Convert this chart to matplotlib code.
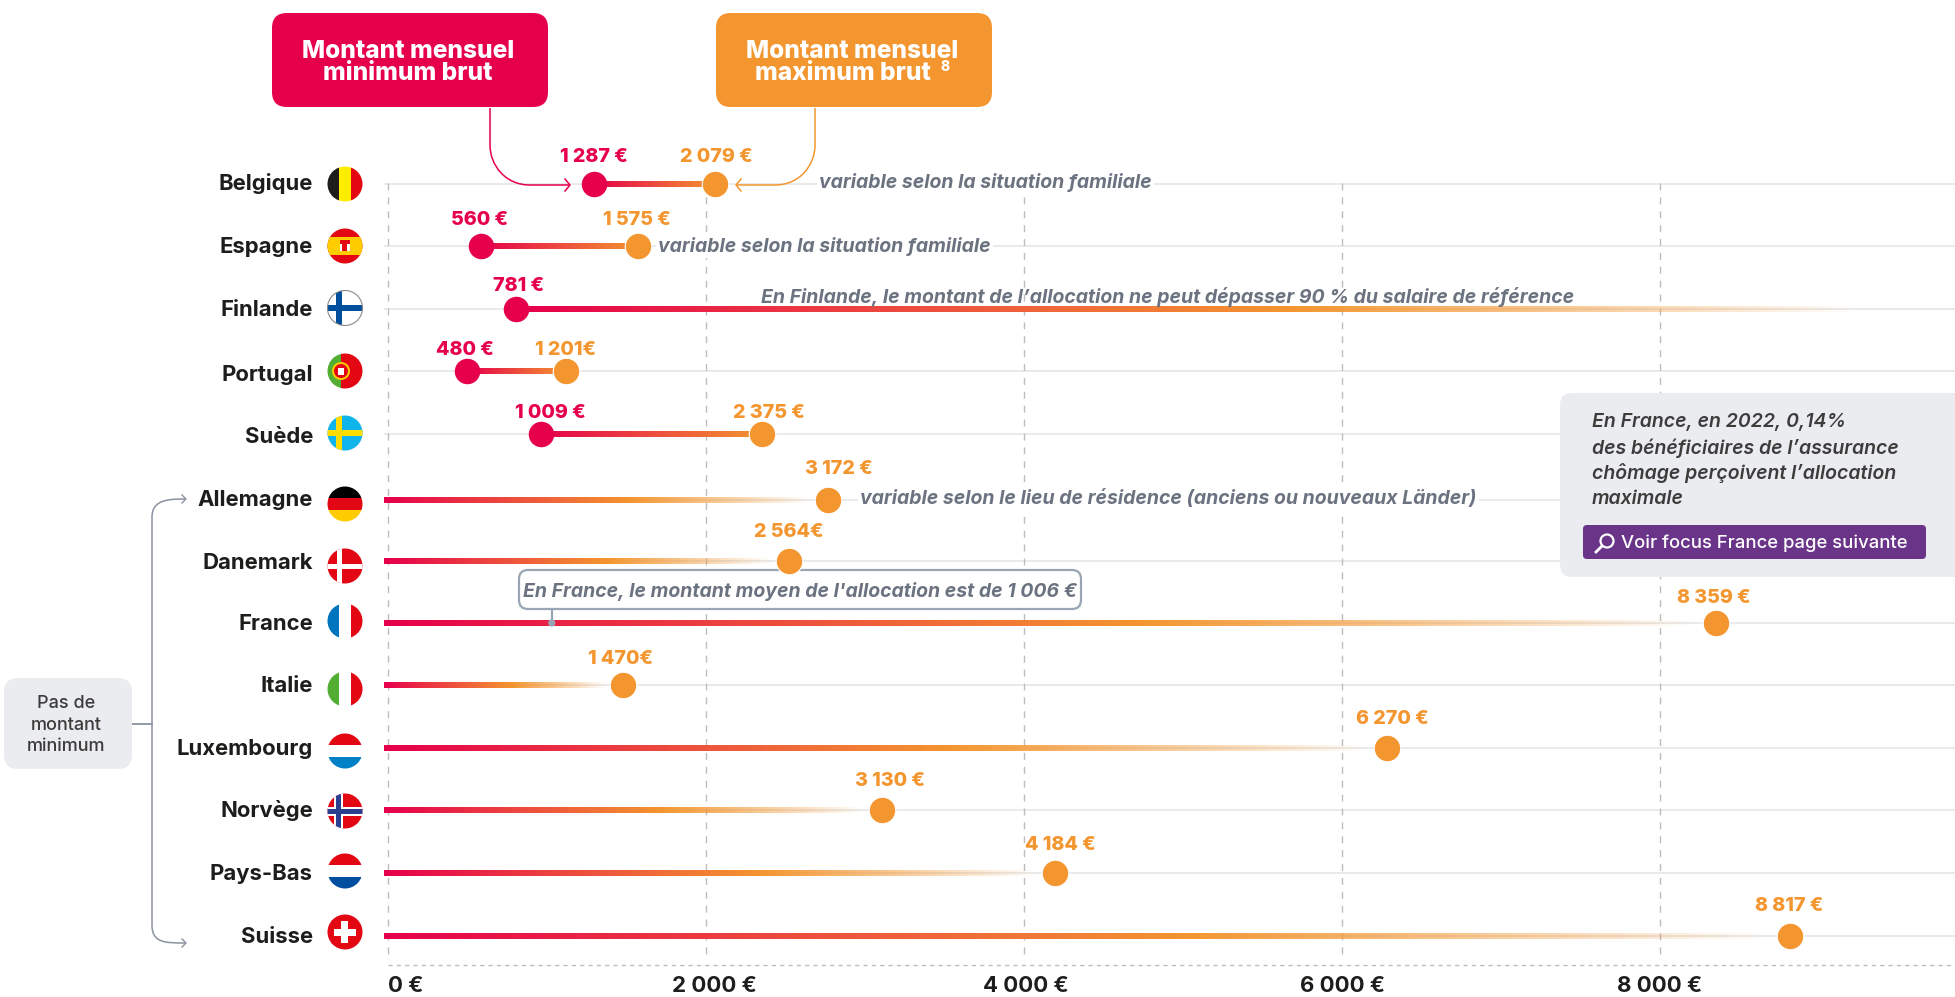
import numpy as np
import matplotlib
matplotlib.use("Agg")
import matplotlib.pyplot as plt
from matplotlib.colors import to_rgb
from matplotlib.patches import Circle, FancyBboxPatch, PathPatch, Rectangle
from matplotlib.path import Path

plt.rcParams["font.family"] = ["Inter", "DejaVu Sans"]

# data
countries = ["Belgique", "Espagne", "Finlande", "Portugal", "Suède", "Allemagne", "Danemark",
             "France", "Italie", "Luxembourg", "Norvège", "Pays-Bas", "Suisse"]
# dot positions as drawn in the picture (in euros on the axis), None = no dot
min_pos = [1296, 588, 805, 500, 962, None, None, None, None, None, None, None, None]
max_pos = [2057, 1572, None, 1119, 2352, 2769, 2525, 8352, 1480, 6280, 3105, 4195, 8820]
min_labels = ["1 287 €", "560 €", "781 €", "480 €", "1 009 €"]
max_labels = ["2 079 €", "1 575 €", None, "1 201€", "2 375 €", "3 172 €", "2 564€", "8 359 €",
              "1 470€", "6 270 €", "3 130 €", "4 184 €", "8 817 €"]
tick_values = [0, 2000, 4000, 6000, 8000]
tick_labels = ["0 €", "2 000 €", "4 000 €", "6 000 €", "8 000 €"]
france_mean_pos = 1030
finland_end = 9245

# layout, in pixels of the 1955x997 picture
row_y = [184, 246, 309, 371, 434, 500, 561, 623, 685, 748, 810, 873, 936]
name_y = [190, 253, 316, 381, 443, 506, 569, 630, 692, 755, 817, 880, 943]
flag_y = [184, 246, 308, 371, 433, 504, 566, 621, 689, 751, 811, 871, 932]
min_label_xy = [(594, 157), (480, 220), (519, 286), (465, 350), (550, 413)]
max_label_xy = [(716, 157), (637, 220), None, (566, 350), (769, 413), (839, 469), (789, 532),
                (1714, 598), (621, 659), (1392, 719), (890, 781), (1060, 845), (1789, 906)]
tick_label_x = [406, 714, 1026, 1343, 1660]

RED = "#E6004C"
ORANGE = "#F49630"
GREY_TXT = "#6B7280"
DARK = "#1D1D1B"
PANEL = "#EBECF0"
PX_PER_EUR = 0.159
X0 = 388


def gradient(fade):
    t = np.linspace(0, 1, 300)
    a, b = np.array(to_rgb(RED)), np.array(to_rgb(ORANGE))
    img = np.ones((1, 300, 4))
    if fade:
        k = np.clip(t / 0.58, 0, 1)
        img[0, :, 3] = np.clip((1 - t) / 0.42, 0, 1)
    else:
        k = t
    img[0, :, :3] = a + (b - a) * k[:, None]
    return img


fig = plt.figure(figsize=(19.55, 9.97), dpi=100)
ax = fig.add_axes([0, 0, 1, 1])
ax.axis("off")

for y in row_y:
    ax.plot([-20, 1955 / PX_PER_EUR], [y, y], color="#E8E8E8", lw=1.3, zorder=1)
for v in tick_values:
    ax.plot([v, v], [183, 958], color="#BDBDBD", lw=1, dashes=(5, 5), zorder=1.5)
ax.plot([0, 1955 / PX_PER_EUR], [965, 965], color="#BDBDBD", lw=1, dashes=(3, 3), zorder=1.5)

for i in range(len(countries)):
    y = row_y[i]
    lo, hi = min_pos[i], max_pos[i]
    if lo is not None and hi is not None:
        ext = (lo, hi, y + 2.8, y - 2.8)
        ax.imshow(gradient(False), extent=ext, aspect="auto", zorder=2)
    elif lo is not None:
        ext = (lo, finland_end, y + 2.8, y - 2.8)
        ax.imshow(gradient(True), extent=ext, aspect="auto", zorder=2)
    else:
        ext = (-25, hi - 110, y + 2.8, y - 2.8)
        ax.imshow(gradient(True), extent=ext, aspect="auto", zorder=2)
    if lo is not None:
        ax.scatter([lo], [y], s=337, color=RED, zorder=3, linewidths=0)
    if hi is not None:
        ax.scatter([hi], [y], s=365, color=ORANGE, zorder=3, edgecolors="white", linewidths=0.8)

ax.set_xlim(-X0 / PX_PER_EUR, (1955 - X0) / PX_PER_EUR)
ax.set_ylim(997, 0)

# overlay in pixel coordinates for boxes, flags and notes
deco = fig.add_axes([0, 0, 1, 1], facecolor="none")
deco.axis("off")
deco.set_xlim(0, 1955)
deco.set_ylim(997, 0)


def box(x0, y0, x1, y1, r, fc, ec="none", lw=0, z=5, target=None):
    p = FancyBboxPatch((x0 + r, y0 + r), x1 - x0 - 2 * r, y1 - y0 - 2 * r,
                       boxstyle=f"round,pad={r},rounding_size={r}", fc=fc, ec=ec, lw=lw, zorder=z,
                       transform=deco.transData)
    (target or deco).add_patch(p)


def curve(points, color):
    codes = [Path.MOVETO, Path.LINETO, Path.CURVE4, Path.CURVE4, Path.CURVE4, Path.LINETO]
    deco.add_patch(PathPatch(Path(points, codes), fc="none", ec=color, lw=1.1, zorder=4))


# headers
box(272, 13, 548, 107, 15, RED)
box(716, 13, 992, 107, 15, ORANGE)
head = dict(color="white", fontsize=17.6, fontweight=800, ha="center", va="center", zorder=6)
deco.text(408, 51, "Montant mensuel", **head)
deco.text(408, 73, "minimum brut", **head)
deco.text(852, 51, "Montant mensuel", **head)
deco.text(843, 73, "maximum brut", **head)
deco.text(945, 67, "8", color="white", fontsize=10, fontweight=800, ha="center", va="center", zorder=6)

curve([(490, 108), (490, 145), (490, 165), (505, 185), (530, 185), (570, 185)], RED)
deco.plot([565, 570, 565], [179, 185, 191], color=RED, lw=1.1, zorder=4)
curve([(815, 108), (815, 145), (815, 165), (800, 185), (775, 185), (736, 185)], ORANGE)
deco.plot([741, 736, 741], [179, 185, 191], color=ORANGE, lw=1.1, zorder=4)

# country names and flags
for name, y in zip(countries, name_y):
    deco.text(313, y, name, color=DARK, fontsize=15.9, fontweight="bold", ha="right", va="baseline")


def flag(y, parts):
    clip = Circle((345, y), 17.5, transform=deco.transData)
    for (x0, y0, w, h, c) in parts:
        r = Rectangle((345 + x0, y + y0), w, h, fc=c, ec="none", zorder=4)
        deco.add_patch(r)
        r.set_clip_path(clip)


def vert(a, b, c):
    return [(-18, -18, 12, 36, a), (-6, -18, 12, 36, b), (6, -18, 12, 36, c)]


def horiz(a, b, c):
    return [(-18, -18, 36, 12, a), (-18, -6, 36, 12, b), (-18, 6, 36, 12, c)]


def cross(bg, c, cx=-6, t=6):
    return [(-18, -18, 36, 36, bg), (cx - t / 2, -18, t, 36, c), (-18, -t / 2, 36, t, c)]


flag(flag_y[0], vert("#1D1D1B", "#FFED00", "#E30613"))
flag(flag_y[1], [(-18, -18, 36, 36, "#E30613"), (-18, -9, 36, 18, "#FFCC00"), (-5, -6, 10, 11, "#E30613"),
                 (-5, -2, 2.5, 7, "white"), (2.5, -2, 2.5, 7, "white")])
flag(flag_y[2], cross("white", "#004F9F"))
deco.add_patch(Circle((345, flag_y[2]), 17.5, fc="none", ec="#8A8A8A", lw=0.8, zorder=4.5))
flag(flag_y[3], [(-18, -18, 14, 36, "#52AE32"), (-4, -18, 22, 36, "#E30613")])
deco.add_patch(Circle((341, flag_y[3]), 8, fc="#E30613", ec="#FFCC00", lw=1.4, zorder=4.5))
deco.add_patch(Rectangle((338, flag_y[3] - 3), 6, 7, fc="white", ec="none", zorder=4.6))
flag(flag_y[4], cross("#0FB5EA", "#FFDD00"))
flag(flag_y[5], horiz("black", "#E30613", "#FFCC00"))
flag(flag_y[6], cross("#E30613", "white", cx=-5, t=5))
flag(flag_y[7], vert("#0075BF", "white", "#E30613"))
flag(flag_y[8], vert("#52AE32", "white", "#E30613"))
flag(flag_y[9], horiz("#E30613", "white", "#0080C5"))
flag(flag_y[10], cross("#E30613", "white", cx=-6, t=9) + [(-8.5, -18, 5, 36, "#2B3F91"), (-18, -2.5, 36, 5, "#2B3F91")])
flag(flag_y[11], horiz("#E30613", "white", "#004F9F"))
flag(flag_y[12], [(-18, -18, 36, 36, "#E30613"), (-3.5, -11, 7, 22, "white"), (-11, -3.5, 22, 7, "white")])

# value labels
for txt, xy in zip(min_labels, min_label_xy):
    deco.text(xy[0], xy[1], txt, color=RED, fontsize=14.2, fontweight=800, ha="center", va="center", zorder=6)
for txt, xy in zip(max_labels, max_label_xy):
    if txt:
        deco.text(xy[0], xy[1], txt, color=ORANGE, fontsize=14.2, fontweight=800, ha="center", va="center", zorder=6)

# axis labels
for txt, x in zip(tick_labels, tick_label_x):
    deco.text(x, 986, txt, color=DARK, fontsize=16, fontweight="bold", ha="center", va="center")

# notes
white_bg = dict(fc="white", ec="none", pad=1.5)
note = dict(color=GREY_TXT, fontsize=14, fontweight="bold", style="italic", va="center", zorder=6)
deco.text(819, 182, "variable selon la situation familiale", bbox=white_bg, **note)
deco.text(658, 246, "variable selon la situation familiale", bbox=white_bg, **note)
deco.text(761, 297, "En Finlande, le montant de l’allocation ne peut dépasser 90 % du salaire de référence", **note)
deco.text(860, 499, "variable selon le lieu de résidence (anciens ou nouveaux Länder)", bbox=white_bg, **note)

# France mean callout, under the Danemark dot
box(519, 570, 1081, 609, 9, "white", ec="#9AA5B4", lw=1.6, z=2.5, target=ax)
deco.text(800, 591, "En France, le montant moyen de l'allocation est de 1 006 €", ha="center", **note)
mean_x = X0 + france_mean_pos * PX_PER_EUR
deco.plot([mean_x, mean_x], [609, 623], color="#9AA5B4", lw=1.6, zorder=5)
deco.add_patch(Circle((mean_x, 623), 3.6, fc="#9AA5B4", ec="none", zorder=5))

# focus panel
box(1560, 393, 2000, 577, 12, PANEL)
panel_lines = ["En France, en 2022, 0,14%", "des bénéficiaires de l’assurance",
               "chômage perçoivent l’allocation", "maximale"]
for txt, y in zip(panel_lines, [422, 448, 473, 499]):
    deco.text(1592, y, txt, color="#3C3C3B", fontsize=14, fontweight="semibold", style="italic", va="center", zorder=6)
box(1583, 525, 1926, 559, 4, "#6A3589", z=6)
deco.text(1621, 543, "Voir focus France page suivante", color="white", fontsize=13.3, fontweight="medium",
          va="center", zorder=7)
deco.add_patch(Circle((1607, 541), 6.5, fc="none", ec="white", lw=1.6, zorder=7))
deco.plot([1602, 1596], [546, 552], color="white", lw=2, zorder=7)

# no minimum group
box(4, 678, 132, 769, 14, PANEL)
deco.text(66, 725, "Pas de\nmontant\nminimum", color="#3C3C3B", fontsize=13, fontweight="medium",
          ha="center", va="center", linespacing=1.32, zorder=6)
deco.plot([132, 152], [724, 724], color="#8A93A0", lw=1.3, zorder=4)
codes = [Path.MOVETO, Path.CURVE4, Path.CURVE4, Path.CURVE4, Path.LINETO, Path.LINETO,
         Path.CURVE4, Path.CURVE4, Path.CURVE4, Path.LINETO]
verts = [(186, 499), (170, 499), (152, 499), (152, 517), (152, 724), (152, 925),
         (152, 943), (165, 943), (186, 943), (186, 943)]
deco.add_patch(PathPatch(Path(verts, codes), fc="none", ec="#8A93A0", lw=1.1, zorder=4))
deco.plot([182, 186, 182], [495, 499, 503], color="#8A93A0", lw=1, zorder=4)
deco.plot([182, 186, 182], [939, 943, 947], color="#8A93A0", lw=1, zorder=4)

fig.savefig("out.png", dpi=100)
